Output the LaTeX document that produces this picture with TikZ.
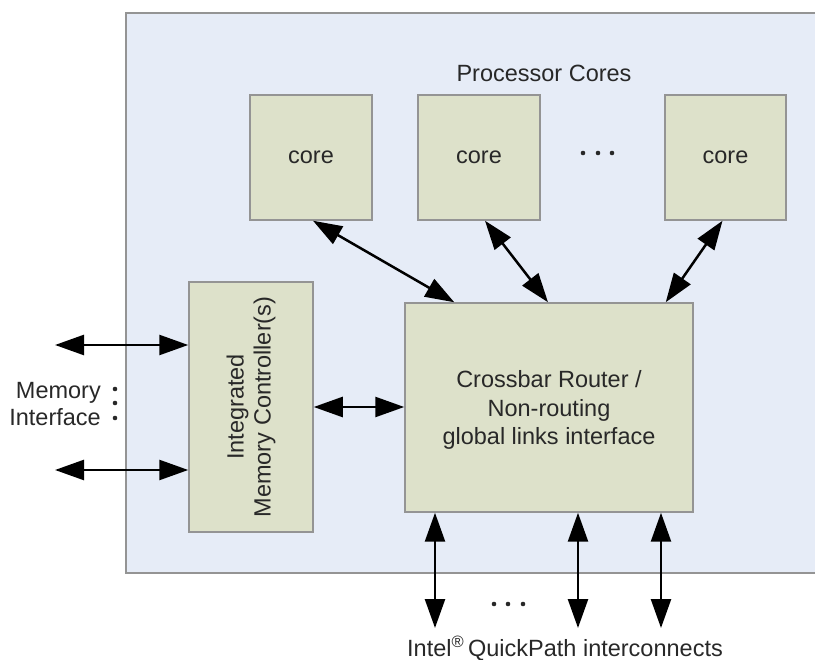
\documentclass[tikz,border=0pt]{standalone}
\usepackage{fontspec}
\setmainfont{Liberation Sans}
\usetikzlibrary{arrows.meta}
\definecolor{chipfill}{HTML}{E6ECF7}
\definecolor{blockfill}{HTML}{DDE1CA}
\definecolor{edgegray}{HTML}{949494}
\definecolor{inkgray}{HTML}{282828}
\tikzset{
  x=1pt, y=-1pt,
  block/.style={draw=edgegray, line width=1.5pt, fill=blockfill, inner sep=0pt,
    text=inkgray, font=\fontsize{23.5}{28}\selectfont, align=center},
  label/.style={text=inkgray, font=\fontsize{23.5}{27}\selectfont, inner sep=0pt},
  link/.style={line width=2.5pt, {Triangle[length=29pt,width=20pt]}-{Triangle[length=29pt,width=20pt]}},
  dot/.style={fill=inkgray}
}
\begin{document}
\begin{tikzpicture}
\useasboundingbox (0,0) rectangle (815,660);

% die outline (runs past the right edge)
\fill[chipfill] (126,13) rectangle (830,573);
\draw[edgegray, line width=1.5pt] (830,13) -- (126,13) -- (126,573) -- (830,573);

\node[label] (title) at (544,73) {Processor Cores};

% cores
\node[block, minimum width=122pt, minimum height=125pt] (core1) at (311,157.5) {};
\node[block, minimum width=122pt, minimum height=125pt] (core2) at (479,157.5) {};
\node[block, minimum width=121pt, minimum height=125pt] (core3) at (725.5,157.5) {};
\node[label] (core1text) at (311,157.5) {core};
\node[label] (core2text) at (479,157.5) {core};
\node[label] (core3text) at (725.5,157.5) {core};
\foreach \xx in {583,598,612} \fill[dot] (\xx,153) circle (2.3pt);

% router and memory controller
\node[block, minimum width=288pt, minimum height=209pt] (xbar) at (549,407.5) {};
\node[label, align=center, font=\fontsize{23.5}{28.5}\selectfont] (xbartext) at (549,410)
  {Crossbar Router /\\Non-routing\\global links interface};
\node[block, minimum width=124pt, minimum height=250pt] (imc) at (251,407) {};
\node[label, rotate=90, align=center] (imctext) at (imc.center)
  {Integrated\\Memory Controller(s)};

% core links
\draw[link] ([xshift=2pt]core1.south) -- ([xshift=50pt]xbar.north west);
\draw[link] ([xshift=6pt]core2.south) -- ([xshift=-1pt]xbar.north);
\draw[link] ([xshift=-3pt]core3.south) -- ([xshift=-28pt]xbar.north east);

% controller to router
\draw[link] (imc.east) -- (imc.east -| xbar.west);

% memory interface
\coordinate (m1) at (55,345);
\coordinate (m2) at (55,470);
\draw[link] (m1) -- (m1 -| imc.west);
\draw[link] (m2) -- (m2 -| imc.west);
\node[label, align=right, anchor=east] (memlabel) at (101,404) {Memory\\Interface};
\foreach \yy in {389,403,418} \fill[dot] (115,\yy) circle (2.3pt);

% QuickPath links
\coordinate (q1) at (435,628);
\coordinate (q2) at (578,628);
\coordinate (q3) at (661,628);
\draw[link] (q1 |- xbar.south) -- (q1);
\draw[link] (q2 |- xbar.south) -- (q2);
\draw[link] (q3 |- xbar.south) -- (q3);
\foreach \xx in {494,508,523} \fill[dot] (\xx,604) circle (2.3pt);
\node[label] (qpi) at (565,648) {Intel\textsuperscript{®}\,QuickPath interconnects};
\end{tikzpicture}
\end{document}
